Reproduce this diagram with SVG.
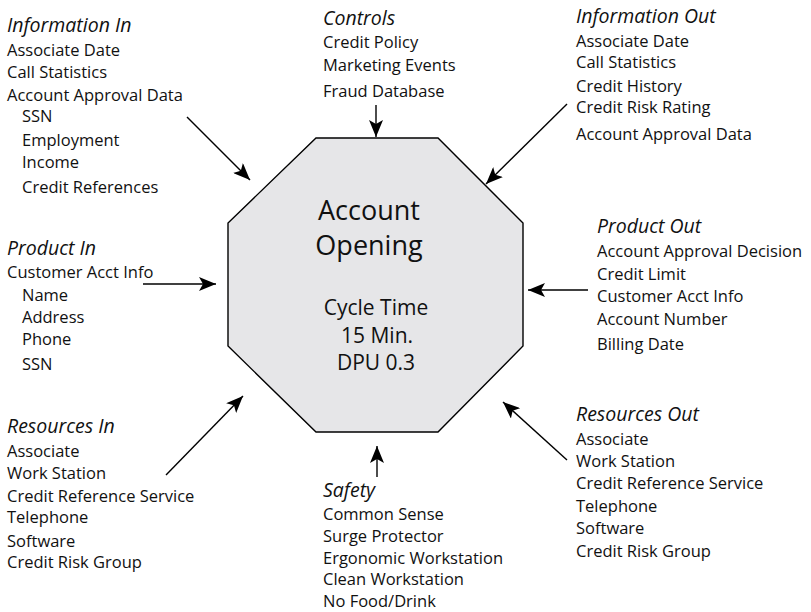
<svg xmlns="http://www.w3.org/2000/svg" width="811" height="612" viewBox="0 0 811 612">
  <style>
    text { font-family: "Open Sans", "Noto Sans", sans-serif; fill: #111; }
    .item { font-size: 16.5px; }
    .head { font-size: 19.5px; font-style: italic; }
    .title { font-size: 27px; text-anchor: middle; }
    .metric { font-size: 21px; text-anchor: middle; }
    .conn { stroke: #000; stroke-width: 1.4; fill: none; marker-end: url(#arrow); }
  </style>
  <defs>
    <marker id="arrow" markerUnits="userSpaceOnUse" markerWidth="18" markerHeight="14" refX="17" refY="7" orient="auto">
      <path d="M0,0 L17,7 L0,14 L4,7 z" fill="#000"/>
    </marker>
  </defs>
  <rect width="811" height="612" fill="#fff"/>

  <!-- central process -->
  <g id="process">
    <polygon points="316,138 438,138 523,223 523,346 438,432 316,432 228,346 228,223" fill="#e6e6e8" stroke="#000" stroke-width="1.4"/>
    <text class="title" x="369" y="220">Account</text>
    <text class="title" x="369" y="255">Opening</text>
    <text class="metric" x="376" y="315">Cycle Time</text>
    <text class="metric" x="377" y="343">15 Min.</text>
    <text class="metric" x="376" y="370">DPU 0.3</text>
  </g>

  <g id="controls">
    <text class="head" x="323" y="25">Controls</text>
    <text class="item" x="323" y="48">Credit Policy</text>
    <text class="item" x="323" y="71">Marketing Events</text>
    <text class="item" x="323" y="97">Fraud Database</text>
  </g>

  <g id="information-in">
    <text class="head" x="7" y="32">Information In</text>
    <text class="item" x="7" y="56">Associate Date</text>
    <text class="item" x="7" y="78">Call Statistics</text>
    <text class="item" x="7" y="101">Account Approval Data</text>
    <text class="item" x="22" y="122">SSN</text>
    <text class="item" x="22" y="146">Employment</text>
    <text class="item" x="22" y="168">Income</text>
    <text class="item" x="22" y="193">Credit References</text>
  </g>

  <g id="information-out">
    <text class="head" x="576" y="23">Information Out</text>
    <text class="item" x="576" y="47">Associate Date</text>
    <text class="item" x="576" y="68">Call Statistics</text>
    <text class="item" x="576" y="92">Credit History</text>
    <text class="item" x="576" y="113">Credit Risk Rating</text>
    <text class="item" x="576" y="140">Account Approval Data</text>
  </g>

  <g id="product-in">
    <text class="head" x="7" y="255">Product In</text>
    <text class="item" x="7" y="278">Customer Acct Info</text>
    <text class="item" x="22" y="301">Name</text>
    <text class="item" x="22" y="323">Address</text>
    <text class="item" x="22" y="345">Phone</text>
    <text class="item" x="22" y="370">SSN</text>
  </g>

  <g id="product-out">
    <text class="head" x="597" y="233">Product Out</text>
    <text class="item" x="597" y="257">Account Approval Decision</text>
    <text class="item" x="597" y="280">Credit Limit</text>
    <text class="item" x="597" y="302">Customer Acct Info</text>
    <text class="item" x="597" y="325">Account Number</text>
    <text class="item" x="597" y="350">Billing Date</text>
  </g>

  <g id="resources-in">
    <text class="head" x="7" y="433">Resources In</text>
    <text class="item" x="7" y="457">Associate</text>
    <text class="item" x="7" y="479">Work Station</text>
    <text class="item" x="7" y="502">Credit Reference Service</text>
    <text class="item" x="7" y="523">Telephone</text>
    <text class="item" x="7" y="547">Software</text>
    <text class="item" x="7" y="568">Credit Risk Group</text>
  </g>

  <g id="resources-out">
    <text class="head" x="576" y="421">Resources Out</text>
    <text class="item" x="576" y="445">Associate</text>
    <text class="item" x="576" y="467">Work Station</text>
    <text class="item" x="576" y="489">Credit Reference Service</text>
    <text class="item" x="576" y="512">Telephone</text>
    <text class="item" x="576" y="534">Software</text>
    <text class="item" x="576" y="557">Credit Risk Group</text>
  </g>

  <g id="safety">
    <text class="head" x="323" y="497">Safety</text>
    <text class="item" x="323" y="520">Common Sense</text>
    <text class="item" x="323" y="542">Surge Protector</text>
    <text class="item" x="323" y="564">Ergonomic Workstation</text>
    <text class="item" x="323" y="585">Clean Workstation</text>
    <text class="item" x="323" y="607">No Food/Drink</text>
  </g>

  <!-- connectors -->
  <g id="connectors">
    <line class="conn" x1="376" y1="105" x2="376" y2="137"/>
    <line class="conn" x1="187" y1="117" x2="250" y2="180"/>
    <line class="conn" x1="567" y1="104" x2="486" y2="184"/>
    <line class="conn" x1="143" y1="284" x2="216" y2="284"/>
    <line class="conn" x1="588" y1="290" x2="528" y2="290"/>
    <line class="conn" x1="166" y1="475" x2="243" y2="396"/>
    <line class="conn" x1="377" y1="477" x2="377" y2="446"/>
    <line class="conn" x1="567" y1="460" x2="503" y2="402"/>
  </g>
</svg>
